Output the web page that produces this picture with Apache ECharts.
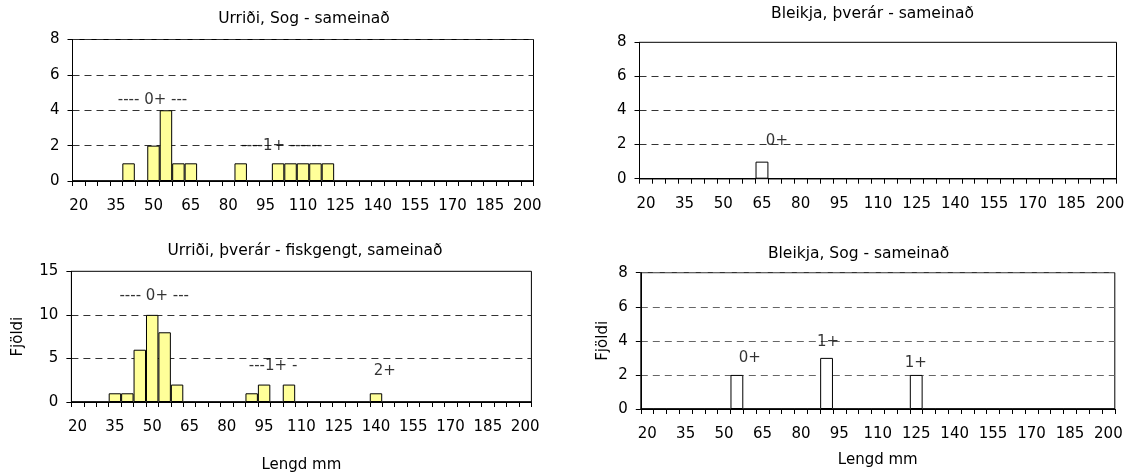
<!DOCTYPE html>
<html>
<head>
<meta charset="utf-8">
<script src="https://cdn.jsdelivr.net/npm/echarts@6/dist/echarts.min.js"></script>
<style>html,body{margin:0;padding:0;background:#fff}#c{width:1131px;height:474px}</style>
</head>
<body>
<div id="c"></div>
<script>
const categories = ['20','25','30','35','40','45','50','55','60','65','70','75','80','85','90','95','100','105','110','115','120','125','130','135','140','145','150','155','160','165','170','175','180','185','190','195','200'];
const titles = ['Urriði, Sog - sameinað', 'Bleikja, þverár - sameinað', 'Urriði, þverár - fiskgengt, sameinað', 'Bleikja, Sog - sameinað'];
const urridiSog     = [0,0,0,0,1,0,2,4,1,1,0,0,0,1,0,0,1,1,1,1,1,0,0,0,0,0,0,0,0,0,0,0,0,0,0,0,0];
const bleikjaThverar= [0,0,0,0,0,0,0,0,0,1,0,0,0,0,0,0,0,0,0,0,0,0,0,0,0,0,0,0,0,0,0,0,0,0,0,0,0];
const urridiThverar = [0,0,0,1,1,6,10,8,2,0,0,0,0,0,1,2,0,2,0,0,0,0,0,0,1,0,0,0,0,0,0,0,0,0,0,0,0];
const bleikjaSog    = [0,0,0,0,0,0,0,2,0,0,0,0,0,0,3,0,0,0,0,0,0,2,0,0,0,0,0,0,0,0,0,0,0,0,0,0,0];
const yMax = [8, 8, 15, 8];
const yStep = [2, 2, 5, 2];
// annotations: [length mm, count, text]
const notes1 = [[49.6, 4.55, '---- 0+ ---'], [101.5, 2.0, '----1+ ------']];
const notes2 = [[70.8, 2.2, '0+']];
const notes3 = [[50.8, 12.1, '---- 0+ ---'], [98.6, 4.1, '---1+ -'], [143.5, 3.5, '2+']];
const notes4 = [[60, 3.0, '0+'], [90.6, 3.9, '1+'], [124.8, 2.7, '1+']];

const FONT = 'DejaVu Sans';
const seriesData = [urridiSog, bleikjaThverar, urridiThverar, bleikjaSog];
const notes = [notes1, notes2, notes3, notes4];
const fills = ['#FFFF99', '#FFFFFF', '#FFFF99', '#FFFFFF'];
const gridColors = ['#333', '#333', '#333', '#666'];
const grids = [
  {left: 72.5, top: 39.5, width: 461, height: 141.5},
  {left: 639.5, top: 42.3, width: 477, height: 136.4},
  {left: 71.4, top: 271.3, width: 460, height: 137.7},
  {left: 640.8, top: 272.7, width: 474, height: 136.3}
];
const titlePos = [[304, 11], [872.5, 6], [305, 243], [858.6, 246]];

const option = {
  animation: false,
  backgroundColor: '#fff',
  textStyle: {fontFamily: FONT, color: '#000'},
  title: titles.map((t, i) => ({
    text: t, left: titlePos[i][0], top: titlePos[i][1], textAlign: 'center', padding: 0,
    textStyle: {fontFamily: FONT, fontSize: 15.5, fontWeight: 'normal', color: '#000'}
  })),
  grid: grids.map(g => Object.assign({show: true, borderColor: '#000', borderWidth: 1, backgroundColor: 'transparent'}, g)),
  xAxis: [],
  yAxis: [],
  series: []
};

for (let i = 0; i < 4; i++) {
  const bottomRow = i >= 2;
  option.xAxis.push({
    type: 'category', gridIndex: i, data: categories, boundaryGap: true,
    axisLine: {lineStyle: {color: '#000', width: 1}},
    axisTick: {show: true, interval: 0, length: 5, inside: false, lineStyle: {color: '#000'}},
    axisLabel: {interval: 2, fontFamily: FONT, fontSize: 15, color: '#000', margin: 18},
    splitLine: {show: false},
    name: bottomRow ? 'Lengd mm' : '', nameLocation: 'middle',
    nameGap: i === 2 ? 56 : 44,
    nameTextStyle: {fontFamily: FONT, fontSize: 15, color: '#000'}
  });
  option.yAxis.push({
    type: 'value', gridIndex: i, min: 0, max: yMax[i], interval: yStep[i],
    axisLine: {show: true, lineStyle: {color: '#000', width: 1}},
    axisTick: {show: true, length: 5, lineStyle: {color: '#000'}},
    axisLabel: {fontFamily: FONT, fontSize: 15, color: '#000', margin: 13},
    splitLine: {show: true, lineStyle: {color: gridColors[i], type: [7, 5], width: 1}},
    name: bottomRow ? 'Fjöldi' : '', nameLocation: 'middle',
    nameGap: i === 2 ? 46 : 30,
    nameTextStyle: {fontFamily: FONT, fontSize: 15, color: '#000'}
  });
}
// hidden value axes for annotation placement in mm
for (let i = 0; i < 4; i++) {
  option.xAxis.push({
    type: 'value', gridIndex: i, min: 17.5, max: 202.5, show: false
  });
}
for (let i = 0; i < 4; i++) {
  option.series.push({
    type: 'bar', xAxisIndex: i, yAxisIndex: i, data: seriesData[i],
    barCategoryGap: '0%', barGap: '0%',
    itemStyle: {color: fills[i], borderColor: '#000', borderWidth: 1},
    z: 3
  });
  option.series.push({
    type: 'scatter', xAxisIndex: 4 + i, yAxisIndex: i,
    data: notes[i].map(n => ({value: [n[0], n[1]], label: {formatter: n[2]}})),
    symbolSize: 1, itemStyle: {color: 'rgba(0,0,0,0)'},
    label: {show: true, position: 'inside', fontFamily: FONT, fontSize: 15, color: '#000'},
    silent: true, z: 5
  });
}
const chart = echarts.init(document.getElementById('c'), null, {renderer: 'canvas'});
chart.setOption(option);
</script>
</body>
</html>
